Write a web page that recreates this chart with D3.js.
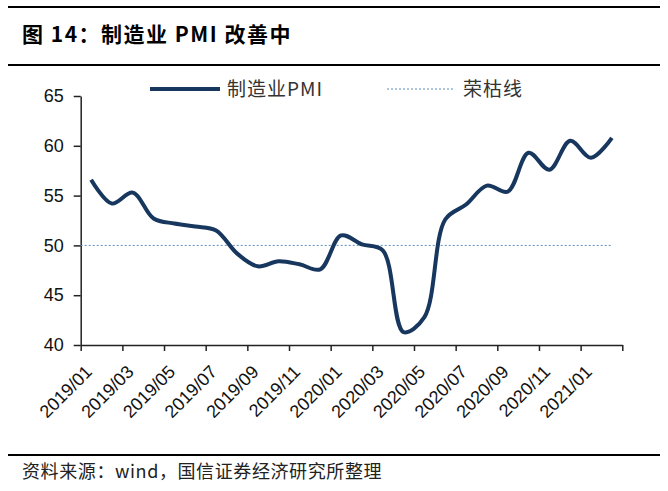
<!DOCTYPE html>
<html>
<head>
<meta charset="utf-8">
<script src="https://cdn.jsdelivr.net/npm/d3@7"></script>
<style>
  body { margin: 0; background: #fff; }
  svg { display: block; }
</style>
</head>
<body>
<svg id="chart"></svg>
<script>
// months 2019/01 .. 2021/02
const months = ['2019/01','2019/02','2019/03','2019/04','2019/05','2019/06','2019/07','2019/08','2019/09','2019/10','2019/11','2019/12',
  '2020/01','2020/02','2020/03','2020/04','2020/05','2020/06','2020/07','2020/08','2020/09','2020/10','2020/11','2020/12',
  '2021/01','2021/02']
const pmi = [56.6, 54.2, 55.3, 52.7, 52.2, 51.9, 51.5, 49.2, 47.9, 48.4, 48.1, 47.6,
  51.0, 50.1, 49.5, 41.3, 42.8, 52.6, 54.1, 56.0, 55.4, 59.3, 57.6, 60.5, 58.8, 60.8]
const boomLine = 50
const yTicks = [40, 45, 50, 55, 60, 65]

const width = 668, height = 491
const cjk = '"Noto Sans CJK SC", sans-serif'
const latin = '"Liberation Sans", Arial, sans-serif'

const svg = d3.select('#chart').attr('width', width).attr('height', height)

// title block
svg.append('line').attr('x1', 8).attr('x2', 660).attr('y1', 7).attr('y2', 7)
  .attr('stroke', '#000').attr('stroke-width', 2)
svg.append('line').attr('x1', 8).attr('x2', 660).attr('y1', 65).attr('y2', 65)
  .attr('stroke', '#000').attr('stroke-width', 2)
svg.append('text').attr('x', 22).attr('y', 42)
  .style('font-family', cjk).style('font-weight', 700).style('font-size', '21px')
  .style('letter-spacing', '1.5px')
  .text('图 14：制造业 PMI 改善中')

// footer
svg.append('line').attr('x1', 8).attr('x2', 660).attr('y1', 455).attr('y2', 455)
  .attr('stroke', '#000').attr('stroke-width', 2)
svg.append('text').attr('x', 22).attr('y', 478)
  .style('font-family', cjk).style('font-size', '18px').attr('fill', '#222')
  .style('letter-spacing', '0.6px')
  .text('资料来源：wind，国信证券经济研究所整理')

// scales: index over category slots, ticks at slot boundaries
let x = d3.scaleLinear().domain([0, months.length]).range([80.7, 622.3])
let y = d3.scaleLinear().domain([40, 65]).range([345, 96])

let xAxis = d3.axisBottom(x).tickValues(d3.range(0, months.length + 1, 2))
  .tickFormat('').tickSize(6).tickSizeOuter(0)
let yAxis = d3.axisLeft(y).tickValues(yTicks).tickSize(7).tickSizeOuter(0)

let gx = svg.append('g').attr('transform', `translate(0, ${y(40)})`).call(xAxis)
let gy = svg.append('g').attr('transform', `translate(${x(0)}, 0)`).call(yAxis)

;[gx, gy].forEach(g => {
  g.select('.domain').attr('stroke', '#222').attr('stroke-width', 1.5)
  g.selectAll('.tick line').attr('stroke', '#222').attr('stroke-width', 1.5)
})
gy.selectAll('.tick text')
  .attr('x', -17)
  .style('font-family', latin).style('font-size', '18px').attr('fill', '#111')

// rotated category labels every 2 months
svg.append('g').selectAll('text')
  .data(months.filter((m, i) => i % 2 == 0))
  .enter().append('text')
  .attr('transform', (d, i) => `translate(${x(i * 2 + 0.5) + 2}, 373) rotate(-45)`)
  .attr('text-anchor', 'end')
  .style('font-family', latin).style('font-size', '18px').attr('fill', '#111')
  .text(d => d)

// 50 boom/bust line
svg.append('line')
  .attr('x1', x(0)).attr('x2', x(months.length - 0.5))
  .attr('y1', y(boomLine)).attr('y2', y(boomLine))
  .attr('stroke', '#5a8fbf').attr('stroke-width', 1).attr('stroke-dasharray', '2,2')

// PMI line
let lineMkr = d3.line()
  .x((d, i) => x(i + 0.5))
  .y(d => y(d))
  .curve(d3.curveCatmullRom.alpha(0.5))

svg.append('path')
  .attr('fill', 'none')
  .attr('stroke', '#17375e')
  .attr('stroke-width', 4)
  .attr('stroke-linejoin', 'round')
  .attr('d', lineMkr(pmi))

// legend
let lg = svg.append('g')
lg.append('line').attr('x1', 150).attr('x2', 220).attr('y1', 89).attr('y2', 89)
  .attr('stroke', '#17375e').attr('stroke-width', 4)
lg.append('text').attr('x', 227).attr('y', 96)
  .style('font-family', cjk).style('font-size', '19px').attr('fill', '#333')
  .style('letter-spacing', '1px')
  .text('制造业PMI')
lg.append('line').attr('x1', 387).attr('x2', 455).attr('y1', 89).attr('y2', 89)
  .attr('stroke', '#5a8fbf').attr('stroke-width', 1).attr('stroke-dasharray', '2,2')
lg.append('text').attr('x', 463).attr('y', 96)
  .style('font-family', cjk).style('font-size', '19px').attr('fill', '#333')
  .style('letter-spacing', '1px')
  .text('荣枯线')
</script>
</body>
</html>
